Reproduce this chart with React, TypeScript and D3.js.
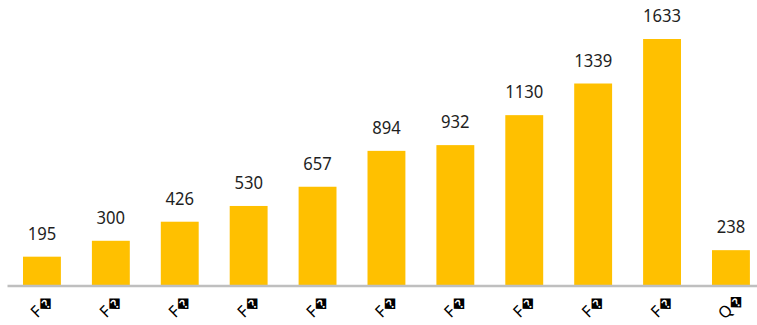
import React from "react";
import * as d3 from "d3";

const categories = ["F\uFFFD", "F\uFFFD", "F\uFFFD", "F\uFFFD", "F\uFFFD", "F\uFFFD", "F\uFFFD", "F\uFFFD", "F\uFFFD", "F\uFFFD", "Q\uFFFD"];
const values = [195, 300, 426, 530, 657, 894, 932, 1130, 1339, 1633, 238];
const ids = categories.map((_, i) => i);

const W = 757;
const H = 325;

export default function App() {
  const x = d3.scaleBand<number>().domain(ids).range([7.5, 765.4]).paddingInner(0.45).paddingOuter(0.225);
  const y = d3.scaleLinear().domain([0, 1633]).range([286.2, 39]);
  const font = "'Noto Sans', 'DejaVu Sans', sans-serif";
  return (
    <svg width={W} height={H} style={{ position: "absolute", left: 0, top: 0 }}>
      {ids.map((i) => {
        const bx = x(i)!;
        const bw = x.bandwidth();
        const cx = bx + bw / 2;
        return (
          <g key={i}>
            <rect x={bx} y={y(values[i])} width={bw} height={y(0) - y(values[i])} fill="#FFC000" />
            <text
              transform={`translate(${cx},${y(values[i]) - 17}) scale(0.9,1)`}
              textAnchor="middle"
              fontFamily={font}
              fontSize={18.5}
              fill="#1f1f1f"
            >
              {values[i]}
            </text>
            <text
              transform={`translate(${cx + 4},${310}) rotate(-45)`}
              textAnchor="middle"
              fontFamily={font}
              fontSize={16}
              fill="#000"
            >
              {categories[i]}
            </text>
          </g>
        );
      })}
      <line x1={7.5} x2={W} y1={286} y2={286} stroke="#BFBFBF" strokeWidth={2.5} />
    </svg>
  );
}
